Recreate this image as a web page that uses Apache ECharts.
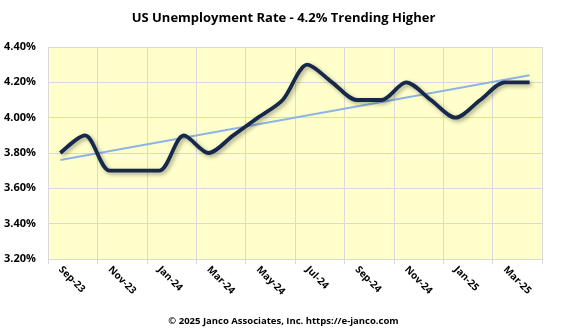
<!DOCTYPE html>
<html><head><meta charset="utf-8">
<script src="https://cdn.jsdelivr.net/npm/echarts@6/dist/echarts.min.js"></script>
<style>html,body{margin:0;padding:0;background:#fff}#c{width:567px;height:334px}</style>
</head><body><div id="c"></div>
<script>
const categories = ['Sep-23','Oct-23','Nov-23','Dec-23','Jan-24','Feb-24','Mar-24','Apr-24','May-24','Jun-24','Jul-24','Aug-24','Sep-24','Oct-24','Nov-24','Dec-24','Jan-25','Feb-25','Mar-25','Apr-25'];
const unemployment = [3.8,3.9,3.7,3.7,3.7,3.9,3.8,3.9,4.0,4.1,4.3,4.2,4.1,4.1,4.2,4.1,4.0,4.1,4.2,4.2];
const trendStart = 3.76;
const trendEnd = 4.24;
const trend = categories.map((c,i)=> i===0 ? trendStart : (i===categories.length-1 ? trendEnd : null));
const yTicks = [3.2,3.4,3.6,3.8,4.0,4.2,4.4];
const titleText = 'US Unemployment Rate - 4.2% Trending Higher';
const footerText = '\u00A9 2025 Janco Associates, Inc. https://e-janco.com';

const font = 'Open Sans';
const chart = echarts.init(document.getElementById('c'), null, {renderer:'canvas'});
chart.setOption({
  animation:false,
  backgroundColor:'#ffffff',
  title:[
    {text:titleText,left:'center',top:7,textStyle:{fontFamily:font,fontSize:13,fontWeight:'bold',color:'#000'}},
    {text:footerText,left:'center',top:311,textStyle:{fontFamily:font,fontSize:9.5,fontWeight:'bold',color:'#000'}}
  ],
  grid:{left:48,top:47,width:494,height:212,show:true,backgroundColor:'#FFFFCC',borderWidth:0},
  xAxis:{
    type:'category',data:categories,boundaryGap:true,
    axisLine:{show:true,lineStyle:{color:'#D9D9D9',width:1}},
    axisTick:{show:true,interval:1,length:5,lineStyle:{color:'#D9D9D9'}},
    splitLine:{show:true,interval:1,lineStyle:{color:'#D9D9D9',width:1}},
    axisLabel:{interval:1,rotate:-45,margin:9,fontFamily:font,fontSize:10,fontWeight:'bold',color:'#000'}
  },
  yAxis:{
    type:'value',min:yTicks[0],max:yTicks[yTicks.length-1],interval:0.2,
    axisLine:{show:false},axisTick:{show:false},
    splitLine:{show:true,lineStyle:{color:'#D9D9D9',width:1}},
    axisLabel:{margin:12,fontFamily:font,fontSize:11,fontWeight:'bold',color:'#000',
      formatter:v=>v.toFixed(2)+'%'}
  },
  series:[
    {type:'line',data:trend,connectNulls:true,symbol:'none',z:2,
     lineStyle:{color:'#8EB4E3',width:2}},
    {type:'line',data:unemployment,smooth:0.3,symbol:'none',z:3,
     lineStyle:{color:'#17294A',width:3.8,shadowColor:'rgba(0,0,0,0.35)',shadowBlur:4,shadowOffsetX:2,shadowOffsetY:2}}
  ]
});
</script></body></html>
